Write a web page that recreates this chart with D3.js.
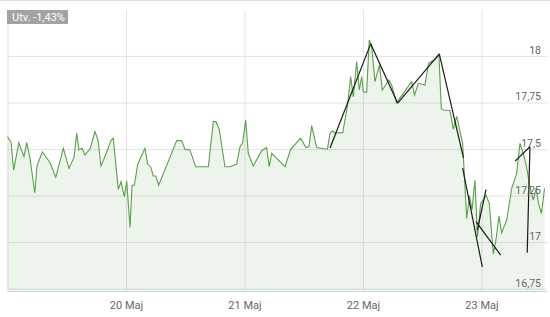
<!DOCTYPE html>
<html>
<head>
<meta charset="utf-8">
<script src="https://cdn.jsdelivr.net/npm/d3@7"></script>
<style>
  body { margin: 0; background: #fff; }
  text { font-family: Roboto, "Liberation Sans", Arial, sans-serif; }
</style>
</head>
<body>
<div id="chart"></div>
<script>

// days after 19 Maj 00:00, and last price
var times = [0, 0.030, 0.052, 0.095, 0.139, 0.162, 0.190, 0.230, 0.249, 0.294,
  0.359, 0.407, 0.471, 0.519, 0.561, 0.584, 0.603, 0.629, 0.654, 0.699,
  0.738, 0.764, 0.789, 0.831, 0.873, 0.893, 0.935, 0.958, 0.986, 1.006,
  1.034, 1.051, 1.070, 1.099, 1.160, 1.183, 1.208, 1.230, 1.251, 1.276,
  1.428, 1.470, 1.498, 1.540, 1.588, 1.695, 1.737, 1.759, 1.787, 1.835,
  1.878, 1.934, 1.962, 1.985, 2.010, 2.032, 2.074, 2.145, 2.187, 2.209,
  2.230, 2.342, 2.390, 2.474, 2.519, 2.544, 2.567, 2.609, 2.700, 2.722,
  2.744, 2.764, 2.829, 2.868, 2.896, 2.918, 2.947, 2.969, 2.989, 3.003,
  3.031, 3.053, 3.073, 3.101, 3.139, 3.163, 3.219, 3.242, 3.284, 3.411,
  3.435, 3.467, 3.523, 3.553, 3.608, 3.641, 3.661, 3.678, 3.734, 3.762,
  3.791, 3.841, 3.875, 3.899, 3.920, 3.945, 3.966, 3.993, 4.015, 4.038,
  4.066, 4.100, 4.122, 4.148, 4.170, 4.213, 4.255, 4.297, 4.325, 4.363,
  4.386, 4.409, 4.437, 4.462, 4.481, 4.506, 4.532];

var prices = [17.566, 17.536, 17.387, 17.534, 17.459, 17.534, 17.450, 17.265, 17.409, 17.485,
  17.426, 17.348, 17.504, 17.396, 17.455, 17.584, 17.495, 17.504, 17.468, 17.504,
  17.594, 17.548, 17.409, 17.473, 17.545, 17.558, 17.283, 17.324, 17.244, 17.328,
  17.079, 17.305, 17.305, 17.418, 17.504, 17.419, 17.405, 17.355, 17.355, 17.306,
  17.545, 17.545, 17.498, 17.495, 17.405, 17.405, 17.647, 17.647, 17.606, 17.405,
  17.405, 17.419, 17.512, 17.534, 17.656, 17.477, 17.409, 17.491, 17.509, 17.405,
  17.477, 17.405, 17.498, 17.558, 17.508, 17.513, 17.626, 17.508, 17.499, 17.586,
  17.597, 17.586, 17.588, 17.727, 17.889, 17.780, 17.969, 17.817, 17.889, 17.808,
  17.805, 18.086, 18.054, 17.862, 17.952, 17.817, 17.871, 17.844, 17.749, 17.862,
  17.790, 17.853, 17.844, 17.961, 17.982, 18.005, 17.718, 17.710, 17.707, 17.606,
  17.675, 17.531, 17.127, 17.250, 17.172, 17.333, 17.028, 17.208, 17.226, 17.253,
  17.208, 16.935, 17.011, 17.140, 17.050, 17.118, 17.289, 17.369, 17.531, 17.452,
  17.387, 17.297, 17.226, 17.290, 17.208, 17.154, 17.289];

// hand drawn trend lines: [t1, v1, t2, v2]
var trendLines = [
  [2.722, 17.505, 3.065, 18.065],
  [3.065, 18.065, 3.293, 17.746],
  [3.293, 17.746, 3.644, 18.011],
  [3.644, 18.011, 3.848, 17.452],
  [3.841, 17.398, 4.007, 16.866],
  [3.954, 17.110, 4.162, 16.930],
  [3.966, 17.065, 4.038, 17.282],
  [4.283, 17.435, 4.409, 17.512],
  [4.409, 17.512, 4.386, 16.942]
];

var dayTicks = [1, 2, 3, 4];
var dayLabels = ["20 Maj", "21 Maj", "22 Maj", "23 Maj"];
var gridDays = [0, 1, 2, 3, 4];
var yTicks = [16.75, 17, 17.25, 17.5, 17.75, 18];
var yTickLabels = ["16,75", "17", "17,25", "17,5", "17,75", "18"];
var changeLabel = "Utv. -1,43%";

var svgWidth = 550;
var svgHeight = 317;
var plot = {left: 7.5, right: 547, top: 10, bottom: 291};

var svg = d3.select("#chart")
  .append("svg")
  .attr("width", svgWidth)
  .attr("height", svgHeight);

var x = d3.scaleLinear()
  .domain([0, 4.553])
  .range([plot.left, plot.right]);

var y = d3.scaleLinear()
  .domain([16.737, 18.247])
  .range([plot.bottom, plot.top]);

// top border
svg.append("line")
  .attr("x1", 0).attr("x2", svgWidth)
  .attr("y1", 0.5).attr("y2", 0.5)
  .attr("stroke", "#dedede");

// horizontal grid + labels
var yAxis = d3.axisLeft(y)
  .tickValues(yTicks)
  .tickSize(-(plot.right - plot.left))
  .tickFormat((d, i) => yTickLabels[i]);

var yg = svg.append("g")
  .attr("transform", `translate(${plot.left},0)`)
  .call(yAxis);
yg.select(".domain").remove();
yg.selectAll(".tick line").attr("stroke", "#e3e3e3");

// vertical grid
var xGrid = d3.axisBottom(x)
  .tickValues(gridDays)
  .tickSize(-(plot.bottom - plot.top))
  .tickFormat("");

var xg = svg.append("g")
  .attr("transform", `translate(0,${plot.bottom})`)
  .call(xGrid);
xg.select(".domain").remove();
xg.selectAll(".tick line").attr("stroke", "#e3e3e3");

// area + line
var pts = times.map((t, i) => [t, prices[i]]);

var area = d3.area()
  .x(d => x(d[0]))
  .y0(plot.bottom)
  .y1(d => y(d[1]));

var line = d3.line()
  .x(d => x(d[0]))
  .y(d => y(d[1]));

svg.append("path")
  .datum(pts)
  .attr("d", area)
  .attr("fill", "#5a9e48")
  .attr("fill-opacity", 0.11);

svg.append("path")
  .datum(pts)
  .attr("d", line)
  .attr("fill", "none")
  .attr("stroke", "#5c9f4c")
  .attr("stroke-width", 1.1);

// trend lines
svg.selectAll(".trend")
  .data(trendLines)
  .enter()
  .append("line")
  .attr("class", "trend")
  .attr("x1", d => x(d[0]))
  .attr("y1", d => y(d[1]))
  .attr("x2", d => x(d[2]))
  .attr("y2", d => y(d[3]))
  .attr("stroke", "#1a1a1a")
  .attr("stroke-width", 1.2);

// y labels on top of everything, right aligned
yg.raise();
yg.selectAll(".tick line").remove();
yg.selectAll(".tick text")
  .attr("x", 541 - plot.left)
  .attr("dy", -2.5)
  .attr("text-anchor", "end")
  .attr("fill", "#666")
  .attr("font-size", 10.5)
  .attr("font-family", "Roboto, sans-serif");

// put gridlines back underneath
var yGrid = d3.axisLeft(y)
  .tickValues(yTicks)
  .tickSize(-(plot.right - plot.left))
  .tickFormat("");
var yg2 = svg.insert("g", "path")
  .attr("transform", `translate(${plot.left},0)`)
  .call(yGrid);
yg2.select(".domain").remove();
yg2.selectAll(".tick line").attr("stroke", "#e3e3e3");

// bottom axis
var xAxis = d3.axisBottom(x)
  .tickValues(dayTicks)
  .tickSize(0)
  .tickPadding(10)
  .tickFormat((d, i) => dayLabels[i]);

var xa = svg.append("g")
  .attr("transform", `translate(0,${plot.bottom})`)
  .call(xAxis);
xa.select(".domain")
  .attr("stroke", "#ccd6eb")
  .attr("d", `M${plot.left},0.5H${plot.right}`);
xa.selectAll(".tick text")
  .attr("fill", "#666")
  .attr("font-size", 11)
  .attr("font-family", "Roboto, sans-serif");

// change badge
svg.append("rect")
  .attr("x", 7).attr("y", 10)
  .attr("width", 61).attr("height", 14)
  .attr("fill", "#a3a3a3");

svg.append("text")
  .attr("x", 12).attr("y", 21)
  .attr("fill", "#fff")
  .attr("font-size", 11)
  .text(changeLabel);

</script>
</body>
</html>
